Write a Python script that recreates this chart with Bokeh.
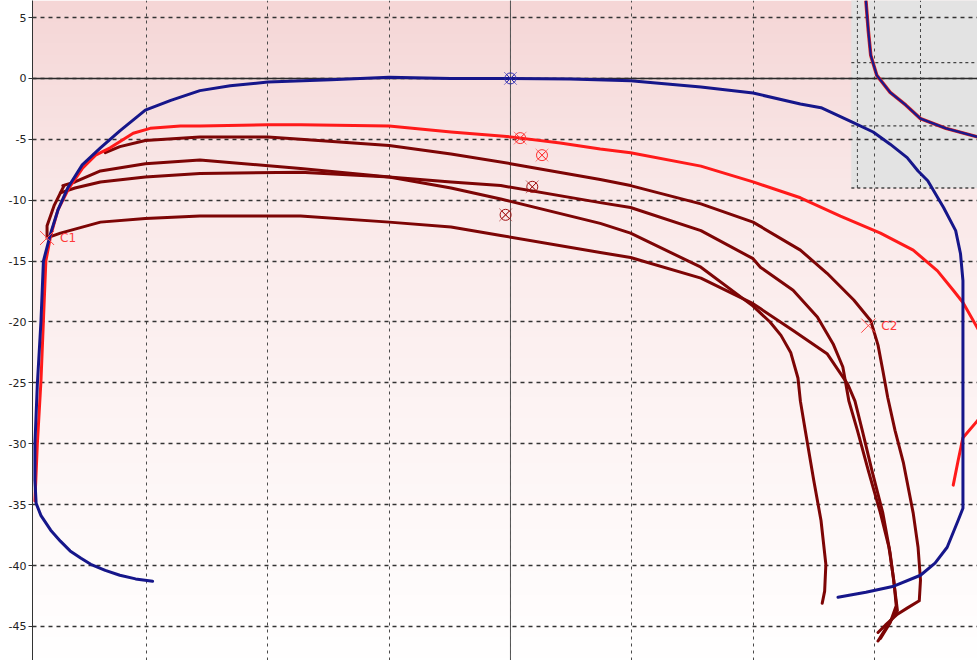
import numpy as np
from bokeh.plotting import figure
from bokeh.models import Range1d, FixedTicker, Span
from bokeh.embed import file_html
from bokeh.resources import INLINE
from bokeh.core.properties import value

# ---------------- data ----------------
y_ticks = [5, 0, -5, -10, -15, -20, -25, -30, -35, -40, -45]
y_tick_labels = ["5", "0", "-5", "-10", "-15", "-20", "-25", "-30", "-35", "-40", "-45"]
x_grid = [-30, -20, -10, 0, 10, 20, 30]

blue_x = [-29.5, -30.9, -32.2, -33.4, -34.6, -35.4, -36.3, -37.1, -37.9, -38.7, -39.1, -39.2, -39.2,
          -39.0, -38.7, -38.5, -37.9, -37.3, -36.5, -35.3, -33.8, -32.2, -30.1, -28.0, -25.6, -23.1,
          -20.0, -14.8, -10.0, -4.9, 0.0, 4.9, 9.9, 15.7, 20.0, 23.9, 25.6, 28.0, 29.9, 31.3, 32.7,
          33.6, 34.4, 35.7, 36.7, 37.1, 37.3, 37.3, 37.3, 36.9, 36.0, 35.0, 33.8, 31.6, 29.3, 27.0]
blue_y = [-41.3, -41.1, -40.8, -40.4, -39.9, -39.4, -38.8, -38.0, -37.1, -35.9, -34.9, -33.0, -30.0,
          -25.1, -19.9, -15.0, -12.7, -10.8, -9.0, -7.1, -5.7, -4.3, -2.6, -1.8, -1.0, -0.6,
          -0.3, -0.1, 0.1, 0.0, 0.0, -0.05, -0.2, -0.7, -1.2, -2.1, -2.4, -3.5, -4.4, -5.4, -6.5,
          -7.6, -8.4, -10.6, -12.5, -14.4, -16.6, -24.8, -35.3, -36.3, -38.5, -39.8, -40.8, -41.7, -42.2, -42.6]

red_x = [-39.2, -39.0, -38.7, -38.5, -38.3, -37.9, -37.3, -36.4, -35.3, -34.2, -33.0, -31.1,
         -29.7, -27.2, -25.6, -20.0, -17.3, -10.0, -4.9, 0.0, 4.1, 7.4, 9.9, 15.7, 20.0,
         23.9, 27.2, 30.5, 33.2, 35.2, 36.5, 37.3, 38.5, 39.6, 39.6, 38.5, 37.3, 36.9, 36.5]
red_y = [-34.7, -30.0, -24.8, -19.9, -15.0, -12.9, -10.8, -9.0, -7.4, -6.3, -5.7, -4.5,
         -4.1, -3.9, -3.9, -3.8, -3.8, -3.9, -4.4, -4.8, -5.3, -5.8, -6.1, -7.2, -8.5,
         -9.8, -11.3, -12.7, -14.1, -15.8, -17.4, -18.4, -20.5, -22.5, -26.9, -28.1, -29.5, -31.4, -33.4]

a_x = [-33.4, -32.2, -30.1, -25.6, -20.0, -17.3, -10.0, -4.9, 0.0, 7.4, 9.9, 15.7, 20.0, 23.9,
       26.1, 28.3, 29.7, 30.3, 30.7, 31.1, 31.7, 32.4, 33.2, 33.6, 33.8, 33.7, 32.7, 31.9, 30.9, 30.3]
a_y = [-6.1, -5.6, -5.1, -4.8, -4.8, -5.0, -5.5, -6.2, -7.0, -8.3, -8.8, -10.3, -11.8, -14.1,
       -16.0, -18.2, -19.9, -21.9, -24.0, -26.2, -28.9, -31.6, -35.7, -38.5, -41.2, -42.9, -43.5, -44.0, -44.9, -45.5]

b_x = [-36.9, -35.9, -33.8, -30.1, -25.6, -17.3, -10.0, -4.9, -0.8, 7.4, 9.9, 15.7, 20.0, 21.4,
       22.3, 23.1, 23.7, 23.9, 24.3, 25.0, 25.6, 26.0, 25.9, 25.7]
b_y = [-8.8, -8.5, -7.6, -7.0, -6.7, -7.4, -8.1, -9.0, -9.9, -11.9, -12.7, -15.5, -18.7, -20.0,
       -21.1, -22.5, -24.6, -26.5, -28.9, -33.0, -36.3, -39.9, -42.1, -43.1]

c_x = [-37.1, -35.9, -33.8, -30.1, -25.6, -17.3, -10.0, -4.9, -0.8, 7.4, 9.9, 15.7, 20.0, 20.6,
       23.3, 25.3, 26.6, 27.4, 27.9, 28.6, 29.5, 30.5, 31.2, 31.6, 31.8, 31.3, 30.5]
c_y = [-9.4, -9.0, -8.5, -8.1, -7.8, -7.7, -8.1, -8.5, -8.8, -10.2, -10.6, -12.5, -14.8, -15.5,
       -17.4, -19.6, -21.8, -23.7, -26.5, -28.9, -32.2, -35.7, -38.5, -41.2, -43.3, -44.7, -46.0]

d_x = [-36.8, -37.6, -38.2, -38.2, -37.1, -33.8, -30.1, -25.6, -17.3, -10.0, -4.9, -0.8, 7.4, 9.9,
       15.7, 20.0, 20.6, 23.3, 26.1, 27.8, 28.4, 29.0, 29.8, 30.7, 31.3, 31.7, 31.9, 31.1, 30.3]
d_y = [-8.8, -10.4, -12.1, -13.1, -12.7, -11.8, -11.5, -11.3, -11.3, -11.8, -12.2, -12.9, -14.3, -14.7,
       -16.4, -18.5, -18.9, -20.7, -22.6, -25.1, -26.5, -28.9, -32.2, -35.7, -39.0, -42.1, -43.7, -44.9, -46.2]

# reference markers near the origin
mark_x = [0.8, 2.6, 1.8, -0.4]
mark_y = [-4.9, -6.3, -8.9, -11.2]
mark_color = ["#ff3030", "#ff3030", "#a01010", "#a01010"]
origin_x = [0.0]
origin_y = [0.0]

# labelled points
cpt_x = [-38.2, 29.5]
cpt_y = [-13.1, -20.3]
cpt_label = ["C1", "C2"]

# overview inset (top right)
inset_left = 28.1
inset_bottom = -9.0
inset_grid_x = [28.6, 33.8]
inset_grid_y = [1.3, -3.9, -9.0]
inset_curve_x = [29.3, 29.5, 29.7, 30.2, 31.3, 32.6, 33.8, 35.9, 38.5]
inset_curve_y = [6.4, 3.9, 1.9, 0.25, -1.15, -2.2, -3.3, -4.1, -4.8]

# ---------------- figure ----------------
xr = Range1d(-39.4, 38.5)
yr = Range1d(-47.8, 6.4)
p = figure(width=977, height=660, x_range=xr, y_range=yr, output_backend="svg",
           toolbar_location=None, x_axis_location=None, y_axis_location="left",
           min_border=0, min_border_left=32)
p.outline_line_color = None
p.background_fill_color = "white"
p.border_fill_color = "white"

# gradient background
H = 220
t = 1.0 - np.arange(H) / (H - 1)          # 0 = top, 1 = bottom
stops = [0.0, 0.3, 0.6, 0.9, 1.0]
rr = np.interp(t, stops, [245, 250, 253, 255, 255])
gg = np.interp(t, stops, [214, 233, 243, 252, 255])
bb = np.interp(t, stops, [214, 233, 243, 252, 255])
img = np.empty((H, 2), dtype=np.uint32)
view = img.view(dtype=np.uint8).reshape((H, 2, 4))
view[:, :, 0] = rr[:, None].astype(np.uint8)
view[:, :, 1] = gg[:, None].astype(np.uint8)
view[:, :, 2] = bb[:, None].astype(np.uint8)
view[:, :, 3] = 255
p.image_rgba(image=[img], x=xr.start, y=yr.start, dw=xr.end - xr.start, dh=yr.end - yr.start,
             level="image")

# gray inset box
p.quad(left=[inset_left], right=[xr.end + 1], top=[yr.end + 1], bottom=[inset_bottom],
       fill_color="#e3e3e3", line_color=None, level="image")

# grid
p.xgrid.ticker = FixedTicker(ticks=x_grid)
p.ygrid.ticker = FixedTicker(ticks=y_ticks)
p.xgrid.grid_line_color = "#4a4a4a"
p.xgrid.grid_line_dash = "3 4"
p.xgrid.grid_line_width = 1
p.ygrid.grid_line_color = "#333333"
p.ygrid.grid_line_dash = "4 4"
p.ygrid.grid_line_width = 1.6

# y axis
ax = p.yaxis[0]
ax.ticker = FixedTicker(ticks=y_ticks)
ax.major_label_overrides = dict(zip(y_ticks, y_tick_labels))
ax.minor_tick_line_color = None
ax.major_tick_out = 4
ax.major_tick_in = 0
ax.major_label_standoff = 2
ax.axis_line_color = "#333333"
ax.major_tick_line_color = "#333333"
ax.major_label_text_font = "DejaVu Sans"
ax.major_label_text_font_size = "11px"
ax.major_label_text_color = "#222222"

# zero lines
p.add_layout(Span(location=0, dimension="width", line_color="#2a2a2a", line_width=1.5, level="underlay"))
p.add_layout(Span(location=0, dimension="height", line_color="#555555", line_width=1, level="underlay"))

# inset grid and curve
p.segment(x0=inset_grid_x, y0=[inset_bottom] * len(inset_grid_x), x1=inset_grid_x,
          y1=[yr.end] * len(inset_grid_x), line_color="#444444", line_dash="3 3", line_width=1)
p.segment(x0=[inset_left] * len(inset_grid_y), y0=inset_grid_y, x1=[xr.end] * len(inset_grid_y),
          y1=inset_grid_y, line_color="#444444", line_dash="3 3", line_width=1.4)
p.line(inset_curve_x, inset_curve_y, line_color="#e02020", line_width=3.5)
p.line(inset_curve_x, inset_curve_y, line_color="#1a1a8c", line_width=2.2)

# curves
dark = "#7d0505"
for xs, ys in [(a_x, a_y), (b_x, b_y), (c_x, c_y), (d_x, d_y)]:
    p.line(xs, ys, line_color=dark, line_width=3, line_join="round", line_cap="round")
p.line(red_x, red_y, line_color="#ff1a1a", line_width=3, line_join="round", line_cap="round")
p.line(blue_x, blue_y, line_color="#16168a", line_width=3, line_join="round", line_cap="round")

# markers
p.scatter(mark_x, mark_y, marker="circle_x", size=11, fill_color=None, line_color=mark_color, line_width=1)
p.scatter(mark_x, mark_y, marker="x", size=18, line_color=mark_color, line_width=0.8, line_alpha=0.7)
p.scatter(origin_x, origin_y, marker="circle_x", size=11, fill_color=None, line_color="#2a2ab0", line_width=1)
p.scatter(origin_x, origin_y, marker="x", size=18, line_color="#2a2ab0", line_width=0.8, line_alpha=0.7)

p.scatter(cpt_x, cpt_y, marker="x", size=20, line_color="#ff4a4a", line_width=1)
p.text(cpt_x, cpt_y, text=cpt_label, x_offset=13, text_baseline="middle",
       text_font=value("DejaVu Sans"), text_font_size="12px", text_color="#ff3a3a")

open("out.html", "w").write(file_html(p, INLINE))
